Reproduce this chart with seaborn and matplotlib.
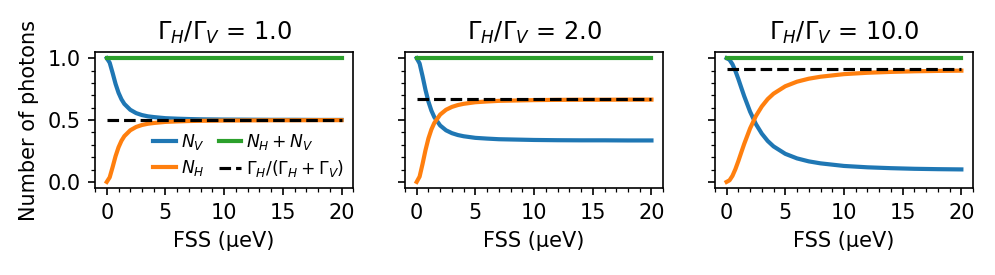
import numpy as np
import pandas as pd
import matplotlib
matplotlib.use("Agg")
import matplotlib.pyplot as plt
from matplotlib.ticker import AutoMinorLocator
import seaborn as sns

# ratios Gamma_H / Gamma_V shown in the three panels
ratios = [1.0, 2.0, 10.0]

fss = [0, 0.25, 0.5, 0.75, 1, 1.25, 1.5, 2, 2.5, 3, 3.5, 4, 5, 6, 7, 8, 10, 12, 14, 16, 18, 20]

# N_V for each ratio
nv_r1 = [1.0, 0.963, 0.880, 0.792, 0.721, 0.668, 0.630, 0.583, 0.556, 0.540, 0.530, 0.524,
         0.515, 0.511, 0.508, 0.506, 0.504, 0.503, 0.502, 0.502, 0.501, 0.501]
nv_r2 = [1.0, 0.957, 0.855, 0.744, 0.649, 0.577, 0.524, 0.456, 0.417, 0.394, 0.379, 0.369,
         0.356, 0.350, 0.345, 0.343, 0.339, 0.337, 0.336, 0.336, 0.335, 0.335]
nv_r10 = [1.0, 0.987, 0.951, 0.897, 0.832, 0.762, 0.693, 0.568, 0.467, 0.390, 0.331, 0.287,
          0.227, 0.190, 0.166, 0.150, 0.129, 0.118, 0.111, 0.106, 0.103, 0.101]

# N_H for each ratio
nh_r1 = [0.0, 0.037, 0.120, 0.208, 0.279, 0.332, 0.370, 0.417, 0.444, 0.460, 0.470, 0.476,
         0.485, 0.489, 0.492, 0.494, 0.496, 0.497, 0.498, 0.498, 0.499, 0.499]
nh_r2 = [0.0, 0.043, 0.145, 0.256, 0.351, 0.423, 0.476, 0.544, 0.583, 0.606, 0.621, 0.631,
         0.644, 0.650, 0.655, 0.657, 0.661, 0.663, 0.664, 0.664, 0.665, 0.665]
nh_r10 = [0.0, 0.013, 0.049, 0.103, 0.168, 0.238, 0.307, 0.432, 0.533, 0.610, 0.669, 0.713,
          0.773, 0.810, 0.834, 0.850, 0.871, 0.882, 0.889, 0.894, 0.897, 0.899]

nv_all = [nv_r1, nv_r2, nv_r10]
nh_all = [nh_r1, nh_r2, nh_r10]

plt.rcParams['font.size'] = 10

fig, axes = plt.subplots(1, 3, figsize=(995 / 150, 275 / 150), dpi=150, sharey=True)
fig.subplots_adjust(left=0.0955, right=0.978, top=0.811, bottom=0.316, wspace=0.2)

for i, ax in enumerate(axes):
    r = ratios[i]
    nv = np.array(nv_all[i])
    nh = np.array(nh_all[i])
    df = pd.DataFrame({'fss': fss, 'nv': nv, 'nh': nh, 'tot': nh + nv})
    sns.lineplot(data=df, x='fss', y='nv', ax=ax, color='C0', lw=2, label=r'$N_V$')
    sns.lineplot(data=df, x='fss', y='nh', ax=ax, color='C1', lw=2, label=r'$N_H$')
    sns.lineplot(data=df, x='fss', y='tot', ax=ax, color='C2', lw=2, label=r'$N_H + N_V$')
    lim = r / (1 + r)
    ax.plot([fss[0], fss[-1]], [lim, lim], 'k--', lw=1.5,
            label=r'$\Gamma_H/(\Gamma_H + \Gamma_V)$')
    ax.set_title(r'$\Gamma_H/\Gamma_V$ = ' + str(r), fontsize=11.5)
    ax.set_xlabel('FSS (μeV)')
    ax.set_ylabel('')
    ax.set_xticks([0, 5, 10, 15, 20])
    ax.set_yticks([0.0, 0.5, 1.0])
    ax.xaxis.set_minor_locator(AutoMinorLocator())
    ax.yaxis.set_minor_locator(AutoMinorLocator())
    if i == 0:
        ax.legend(ncol=2, frameon=False, loc='lower right', fontsize=8.3,
                  handlelength=1.3, columnspacing=0.8, handletextpad=0.3,
                  borderaxespad=0.1, labelspacing=0.35)
    else:
        ax.get_legend().remove()

axes[0].set_ylabel('Number of photons')

plt.savefig('out.png', dpi=150)
